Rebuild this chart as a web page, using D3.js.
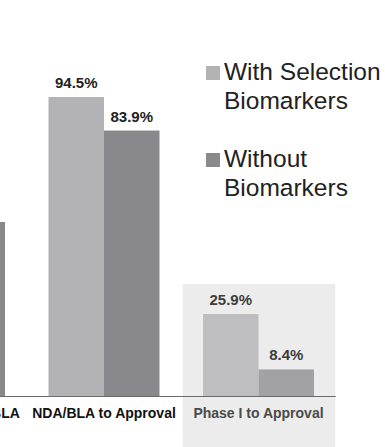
<!DOCTYPE html>
<html>
<head>
<meta charset="utf-8">
<script src="https://cdn.jsdelivr.net/npm/d3@7"></script>
<style>
  html, body { margin: 0; padding: 0; background: #fff; }
  svg { display: block; font-family: "Liberation Sans", Arial, Helvetica, sans-serif; }
</style>
</head>
<body>
<svg id="chart" width="385" height="447"></svg>
<script>
// Transition success rates, with and without selection biomarkers
const categories = ["Phase III to NDA/BLA", "NDA/BLA to Approval", "Phase I to Approval"];
const seriesNames = ["With Selection Biomarkers", "Without Biomarkers"];
const withBiomarkers = [null, 94.5, 25.9];
const withoutBiomarkers = [55.0, 83.9, 8.4];
const highlighted = "Phase I to Approval";

const svg = d3.select("#chart");
const baseY = 396;

const x0 = d3.scaleBand().domain(categories).range([-127.75, 335.75]).padding(0);
const x1 = d3.scaleBand().domain(seriesNames).range([0, x0.bandwidth()])
  .paddingInner(0).paddingOuter(0.392);
const y = d3.scaleLinear().domain([0, 100]).range([baseY, baseY - 316.4]);

const colors = {
  normal: ["#b3b3b6", "#89898d"],
  faded: ["#bebec1", "#a2a2a5"]
};

// shaded panel behind the highlighted group
svg.append("rect")
  .attr("x", x0(highlighted) + 1.5)
  .attr("y", 284)
  .attr("width", x0.bandwidth() - 2)
  .attr("height", 447 - 284)
  .attr("fill", "#ececec");

const rows = categories.map((c, i) => ({
  cat: c,
  values: [withBiomarkers[i], withoutBiomarkers[i]]
}));

const groups = svg.selectAll("g.group").data(rows).join("g")
  .attr("class", "group")
  .attr("transform", d => `translate(${x0(d.cat)},0)`);

groups.each(function(d) {
  const g = d3.select(this);
  const faded = d.cat === highlighted;
  const pal = faded ? colors.faded : colors.normal;
  const items = d.values.map((v, j) => ({ v, name: seriesNames[j], j })).filter(e => e.v != null);
  g.selectAll("rect").data(items).join("rect")
    .attr("x", e => x1(e.name))
    .attr("y", e => y(e.v))
    .attr("width", x1.bandwidth())
    .attr("height", e => baseY - y(e.v))
    .attr("fill", e => pal[e.j]);
  g.selectAll("text.val").data(items).join("text")
    .attr("class", "val")
    .attr("x", e => x1(e.name) + x1.bandwidth() / 2)
    .attr("y", e => y(e.v) - 9)
    .attr("text-anchor", "middle")
    .attr("font-size", 15)
    .attr("font-weight", "bold")
    .attr("fill", faded ? "#3d3d3d" : "#222")
    .text(e => e.v.toFixed(1) + "%");
  g.append("text")
    .attr("x", x0.bandwidth() / 2)
    .attr("y", 418)
    .attr("text-anchor", "middle")
    .attr("font-size", 14)
    .attr("font-weight", "bold")
    .attr("fill", faded ? "#4a4a4a" : "#111")
    .text(d.cat);
});

// baseline
svg.append("line")
  .attr("x1", 0).attr("x2", x0.range()[1])
  .attr("y1", baseY + 0.5).attr("y2", baseY + 0.5)
  .attr("stroke", "#6a6a6a").attr("stroke-width", 1);

// legend
const legend = svg.append("g").attr("transform", "translate(206,0)");
const legendItems = [
  { lines: ["With Selection", "Biomarkers"], color: "#b3b3b3", base: 80 },
  { lines: ["Without", "Biomarkers"], color: "#8a8a8d", base: 167 }
];
legendItems.forEach(it => {
  legend.append("rect")
    .attr("x", 0).attr("y", it.base - 14)
    .attr("width", 14).attr("height", 14)
    .attr("fill", it.color);
  it.lines.forEach((t, k) => {
    legend.append("text")
      .attr("x", 18)
      .attr("y", it.base + k * 28.5)
      .attr("font-size", 24.5)
      .attr("fill", "#222")
      .text(t);
  });
});
</script>
</body>
</html>
